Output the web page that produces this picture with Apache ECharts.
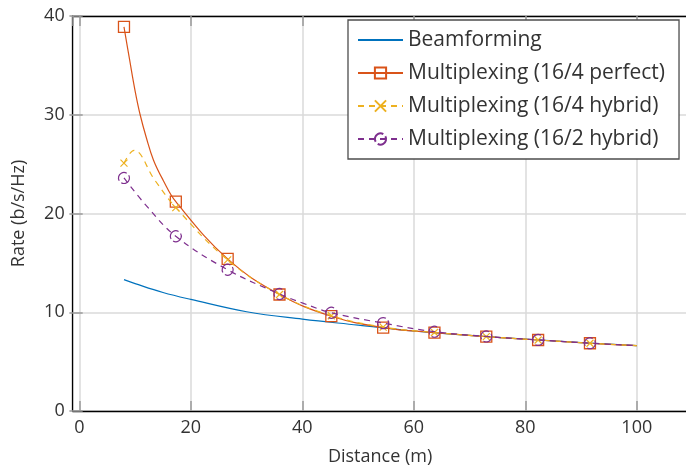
<!DOCTYPE html>
<html>
<head>
<meta charset="utf-8">
<script src="https://cdn.jsdelivr.net/npm/echarts@6/dist/echarts.min.js"></script>
<style>
  html, body { margin: 0; padding: 0; background: #ffffff; }
  #chart { width: 686px; height: 466px; }
</style>
</head>
<body>
<div id="chart"></div>
<script>
// Axis ticks
const xTicks = [0, 20, 40, 60, 80, 100];
const yTicks = [0, 10, 20, 30, 40];

// Series names
const seriesNames = [
  'Beamforming',
  'Multiplexing (16/4 perfect)',
  'Multiplexing (16/4 hybrid)',
  'Multiplexing (16/2 hybrid)'
];

// Distances (m) at which markers are drawn
const markerDistances = [8, 17.3, 26.6, 35.9, 45.2, 54.5, 63.7, 73.0, 82.3, 91.6];

// Rate (b/s/Hz) versus distance (m)
const beamforming = [
  [8, 13.3], [10, 12.9], [15, 12.0], [20, 11.3], [30, 10.05], [40, 9.3],
  [50, 8.7], [60, 8.1], [70, 7.65], [80, 7.28], [90, 6.93], [100, 6.62]
];
const perfect164 = [
  [8, 38.9], [9, 35.6], [10, 32.4], [10.9, 30.0], [12, 27.7], [13.3, 25.4],
  [15, 23.4], [17.3, 21.2], [26.6, 15.4], [35.9, 11.8], [45.2, 9.6],
  [54.5, 8.45], [63.7, 7.93], [73.0, 7.53], [82.3, 7.19], [91.6, 6.86], [100, 6.62]
];
const hybrid164 = [
  [8, 25.1], [9.8, 26.4], [13.5, 23.4], [17.3, 20.6], [26.6, 15.3], [35.9, 11.8],
  [45.2, 9.65], [54.5, 8.5], [63.7, 7.95], [73.0, 7.53], [82.3, 7.19], [91.6, 6.86], [100, 6.62]
];
const hybrid162 = [
  [8, 23.6], [12, 20.8], [17.3, 17.7], [26.6, 14.3], [35.9, 11.85], [40.2, 10.9],
  [45.2, 9.95], [54.5, 8.9], [63.7, 8.03], [73.0, 7.55], [82.3, 7.2], [91.6, 6.87], [100, 6.62]
];

const colors = ['#0072bd', '#d95319', '#edb120', '#7e2f8e'];
const FONT = '"Open Sans", "Noto Sans", sans-serif';
const TEXT = '#333333';

// Marker shapes: a cross, and a circle broken into two arcs (dashed outline)
const CROSS = 'path://M0,0L10,10M10,0L0,10';
const BROKEN_CIRCLE = 'path://M-4.33,2.5A5,5,0,0,1,2.5,-4.33M4.33,-2.5A5,5,0,0,1,-2.5,4.33';

// Marker only where the distance is one of the marker distances
function withMarkers(points) {
  return points.map(p =>
    markerDistances.some(d => Math.abs(d - p[0]) < 1e-6) ? p : { value: p, symbol: 'none' }
  );
}

const chart = echarts.init(document.getElementById('chart'), null, { renderer: 'canvas' });

const axisLineStyle = { color: '#000', width: 1.3 };
const tickStyle = { show: true, inside: true, length: 10, lineStyle: { color: '#9a9a9a', width: 1.5 } };
const X_MIN = -1.2, X_MAX = 109.1;

chart.setOption({
  animation: false,
  grid: { left: 72.7, top: 16, right: -1.5, bottom: 55, containLabel: false, outerBoundsMode: 'none' },
  legend: {
    orient: 'vertical',
    left: 348,
    top: 20,
    padding: [8, 14, 8, 9],
    itemWidth: 45,
    itemHeight: 14,
    itemGap: 9,
    backgroundColor: '#ffffff',
    borderColor: '#4d4d4d',
    borderWidth: 1.3,
    borderRadius: 0,
    textStyle: { fontFamily: FONT, fontSize: 21, color: TEXT, lineHeight: 24 },
    data: [
      { name: seriesNames[0], itemStyle: { opacity: 0 } },
      seriesNames[1], seriesNames[2], seriesNames[3]
    ]
  },
  xAxis: [
    {
      type: 'value',
      min: X_MIN,
      max: X_MAX,
      minInterval: 20,
      maxInterval: 20,
      name: 'Distance (m)',
      nameLocation: 'middle',
      nameGap: 37,
      nameTextStyle: { fontFamily: FONT, fontSize: 18, color: TEXT },
      axisLine: { show: true, onZero: false, lineStyle: axisLineStyle },
      axisTick: tickStyle,
      axisLabel: {
        fontFamily: FONT, fontSize: 18, color: TEXT, margin: 8,
        showMinLabel: false, showMaxLabel: false,
        formatter: v => (xTicks.includes(Math.round(v * 1000) / 1000) ? String(v) : '')
      },
      splitLine: { show: true, lineStyle: { color: '#dadada', width: 1.5 } }
    },
    {
      type: 'value',
      position: 'top',
      min: X_MIN,
      max: X_MAX,
      minInterval: 20,
      maxInterval: 20,
      axisLine: { show: true, onZero: false, lineStyle: axisLineStyle },
      axisTick: tickStyle,
      axisLabel: { show: false },
      splitLine: { show: false }
    }
  ],
  yAxis: [
    {
      type: 'value',
      min: yTicks[0],
      max: yTicks[yTicks.length - 1],
      interval: 10,
      name: 'Rate (b/s/Hz)',
      nameLocation: 'middle',
      nameGap: 45,
      nameTextStyle: { fontFamily: FONT, fontSize: 18, color: TEXT },
      axisLine: { show: true, onZero: false, lineStyle: axisLineStyle },
      axisTick: tickStyle,
      axisLabel: { fontFamily: FONT, fontSize: 18, color: TEXT, margin: 8 },
      splitLine: { show: true, lineStyle: { color: '#dadada', width: 1.5 } }
    },
    {
      type: 'value',
      position: 'right',
      min: yTicks[0],
      max: yTicks[yTicks.length - 1],
      interval: 10,
      axisLine: { show: false },
      axisTick: tickStyle,
      axisLabel: { show: false },
      splitLine: { show: false }
    }
  ],
  series: [
    {
      name: seriesNames[0],
      type: 'line',
      data: beamforming,
      smooth: 0.4,
      symbol: 'none',
      lineStyle: { color: colors[0], width: 1.2 },
      itemStyle: { color: colors[0] },
      z: 2
    },
    {
      name: seriesNames[1],
      type: 'line',
      data: withMarkers(perfect164),
      smooth: 0.4,
      showAllSymbol: true,
      symbol: 'rect',
      symbolSize: 11,
      lineStyle: { color: colors[1], width: 1.2 },
      itemStyle: { color: 'rgba(0,0,0,0)', borderColor: colors[1], borderWidth: 1.3 },
      z: 3
    },
    {
      name: seriesNames[2],
      type: 'line',
      data: withMarkers(hybrid164),
      smooth: 0.4,
      showAllSymbol: true,
      symbol: CROSS,
      symbolSize: 7,
      lineStyle: { color: colors[2], width: 1.2, type: [6, 5] },
      itemStyle: { color: 'rgba(0,0,0,0)', borderColor: colors[2], borderWidth: 1.2 },
      z: 4
    },
    {
      name: seriesNames[3],
      type: 'line',
      data: withMarkers(hybrid162),
      smooth: 0.4,
      showAllSymbol: true,
      symbol: BROKEN_CIRCLE,
      symbolSize: 11,
      lineStyle: { color: colors[3], width: 1.2, type: [6, 5] },
      itemStyle: { color: 'rgba(0,0,0,0)', borderColor: colors[3], borderWidth: 1.2 },
      z: 5
    }
  ]
});
</script>
</body>
</html>
